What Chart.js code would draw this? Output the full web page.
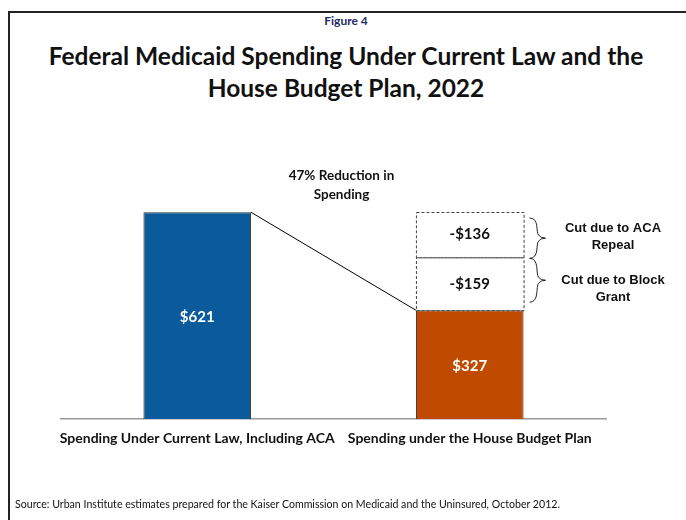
<!DOCTYPE html>
<html>
<head>
<meta charset="utf-8">
<script src="https://cdn.jsdelivr.net/npm/chart.js@4.4.0/dist/chart.umd.min.js"></script>
<style>
  body { margin: 0; background: #fff; }
  #wrap { position: relative; width: 686px; height: 520px; overflow: hidden; }
  #frame { position: absolute; left: 8px; top: 11px; width: 700px; height: 540px;
    border-left: 2px solid #222; border-top: 2px solid #222; }
  .t { position: absolute; left: 0; width: 692px; text-align: center; font-family: Lato, sans-serif;
    font-weight: bold; color: #111; }
  #fig { top: 13px; font-size: 12px; color: #1f2a6b; }
  #title { top: 40px; font-size: 24.5px; line-height: 32px; }
  #source { position: absolute; left: 15px; top: 498px; font-family: Lato, sans-serif; font-size: 10.6px; color: #111; }
  canvas { position: absolute; left: 0; top: 0; }
</style>
</head>
<body>
<div id="wrap">
  <div id="frame"></div>
  <div class="t" id="fig">Figure 4</div>
  <div class="t" id="title">Federal Medicaid Spending Under Current Law and the<br>House Budget Plan, 2022</div>
  <canvas id="my-chart" width="686" height="520"></canvas>
  <div id="source">Source: Urban Institute estimates prepared for the Kaiser Commission on Medicaid and the Uninsured, October 2012.</div>
</div>
<script>
'use strict';

// ******* DATA ********
let categories = ['Spending Under Current Law, Including ACA', 'Spending under the House Budget Plan'];
let spending = [621, 327];
let blockGrantCut = [null, 159];
let acaRepealCut = [null, 136];
let reductionNote = ['47% Reduction in', 'Spending'];
let braceNotes = [['Cut due to ACA', 'Repeal'], ['Cut due to Block', 'Grant']];

let ctx = document.getElementById('my-chart');

// ****** PLUGIN: labels, dashed boxes, connector, braces ******
let extrasPlugin = {
  id: 'extras',
  afterDatasetsDraw(chart) {
    let c = chart.ctx;
    let base = chart.getDatasetMeta(0).data;
    let block = chart.getDatasetMeta(1).data[1];
    let aca = chart.getDatasetMeta(2).data[1];

    // dashed boxes for the cuts
    c.save();
    c.strokeStyle = '#444';
    c.lineWidth = 1;
    c.setLineDash([3, 2]);
    [block, aca].forEach(function(el){
      let left = el.x - el.width / 2;
      c.strokeRect(left + 0.5, el.y + 0.5, el.width, el.base - el.y);
    });
    c.restore();

    // connector line
    let b0 = base[0];
    let b1 = base[1];
    c.save();
    c.strokeStyle = '#000';
    c.lineWidth = 1;
    c.beginPath();
    c.moveTo(b0.x + b0.width / 2, b0.y);
    c.lineTo(b1.x - b1.width / 2, b1.y);
    c.stroke();
    c.restore();

    // value labels
    c.save();
    c.textAlign = 'center';
    c.textBaseline = 'middle';
    c.font = 'bold 15px Lato, sans-serif';
    c.fillStyle = '#fff';
    base.forEach(function(el, i){
      c.fillText('$' + spending[i], el.x, (el.y + el.base) / 2 + 1);
    });
    c.fillStyle = '#111';
    c.fillText('-$' + blockGrantCut[1], block.x, (block.y + block.base) / 2);
    c.fillText('-$' + acaRepealCut[1], aca.x, (aca.y + aca.base) / 2);

    // reduction note
    c.font = 'bold 13.5px Lato, sans-serif';
    let midX = (b0.x + b0.width / 2 + b1.x - b1.width / 2) / 2 + 8;
    c.fillText(reductionNote[0], midX, b0.y - 37);
    c.fillText(reductionNote[1], midX, b0.y - 18);

    // braces and their notes
    c.font = 'bold 13px "Liberation Sans", Arial, sans-serif';
    c.strokeStyle = '#222';
    c.lineWidth = 1;
    [aca, block].forEach(function(el, i){
      let top = el.y + (i === 0 ? 6 : 1);
      let bot = el.base + (i === 0 ? 1 : -8);
      let mid = (top + bot) / 2;
      let x0 = el.x + el.width / 2 + 6;
      let x1 = x0 + 9;
      let x2 = x1 + 7;
      c.beginPath();
      c.moveTo(x0, top);
      c.bezierCurveTo(x1 + 1, top, x1 - 3, mid - 6, x1, mid - 3);
      c.quadraticCurveTo(x1 + 2, mid, x2, mid);
      c.quadraticCurveTo(x1 + 2, mid, x1, mid + 3);
      c.bezierCurveTo(x1 - 3, mid + 6, x1 + 1, bot, x0, bot);
      c.stroke();
      let textMid = (el.y + el.base) / 2 + (i === 0 ? 2 : 5);
      c.fillText(braceNotes[i][0], 613, textMid - 8);
      c.fillText(braceNotes[i][1], 613, textMid + 8.5);
    });
    c.restore();
  }
};

// ****** CHART ******
let chartObj = {
  type: 'bar',
  data: {
    labels: categories,
    datasets: [{
      label: 'Spending',
      data: spending,
      backgroundColor: ['#0b5a9c', '#c04a00'],
      borderColor: '#333',
      borderWidth: 1
    },
    {
      label: 'Cut due to Block Grant',
      data: blockGrantCut,
      backgroundColor: '#fff',
      borderWidth: 0
    },
    {
      label: 'Cut due to ACA Repeal',
      data: acaRepealCut,
      backgroundColor: '#fff',
      borderWidth: 0
    }]
  },
  plugins: [extrasPlugin],
  options: {
    responsive: false,
    animation: false,
    devicePixelRatio: 1,
    categoryPercentage: 1,
    barPercentage: 0.395,
    layout: { padding: { left: 61, right: 80, top: 186, bottom: 62 } },
    plugins: {
      legend: { display: false },
      tooltip: { enabled: false }
    },
    scales: {
      x: {
        stacked: true,
        grid: { display: false, drawTicks: false },
        border: { color: '#999', width: 1.5 },
        ticks: {
          autoSkip: false,
          maxRotation: 0,
          padding: 11,
          color: '#111',
          font: { family: 'Lato, sans-serif', weight: 'bold', size: 14 }
        }
      },
      y: {
        stacked: true,
        display: false,
        min: 0,
        max: 700
      }
    }
  }
};

new Chart(ctx, chartObj);
</script>
</body>
</html>
